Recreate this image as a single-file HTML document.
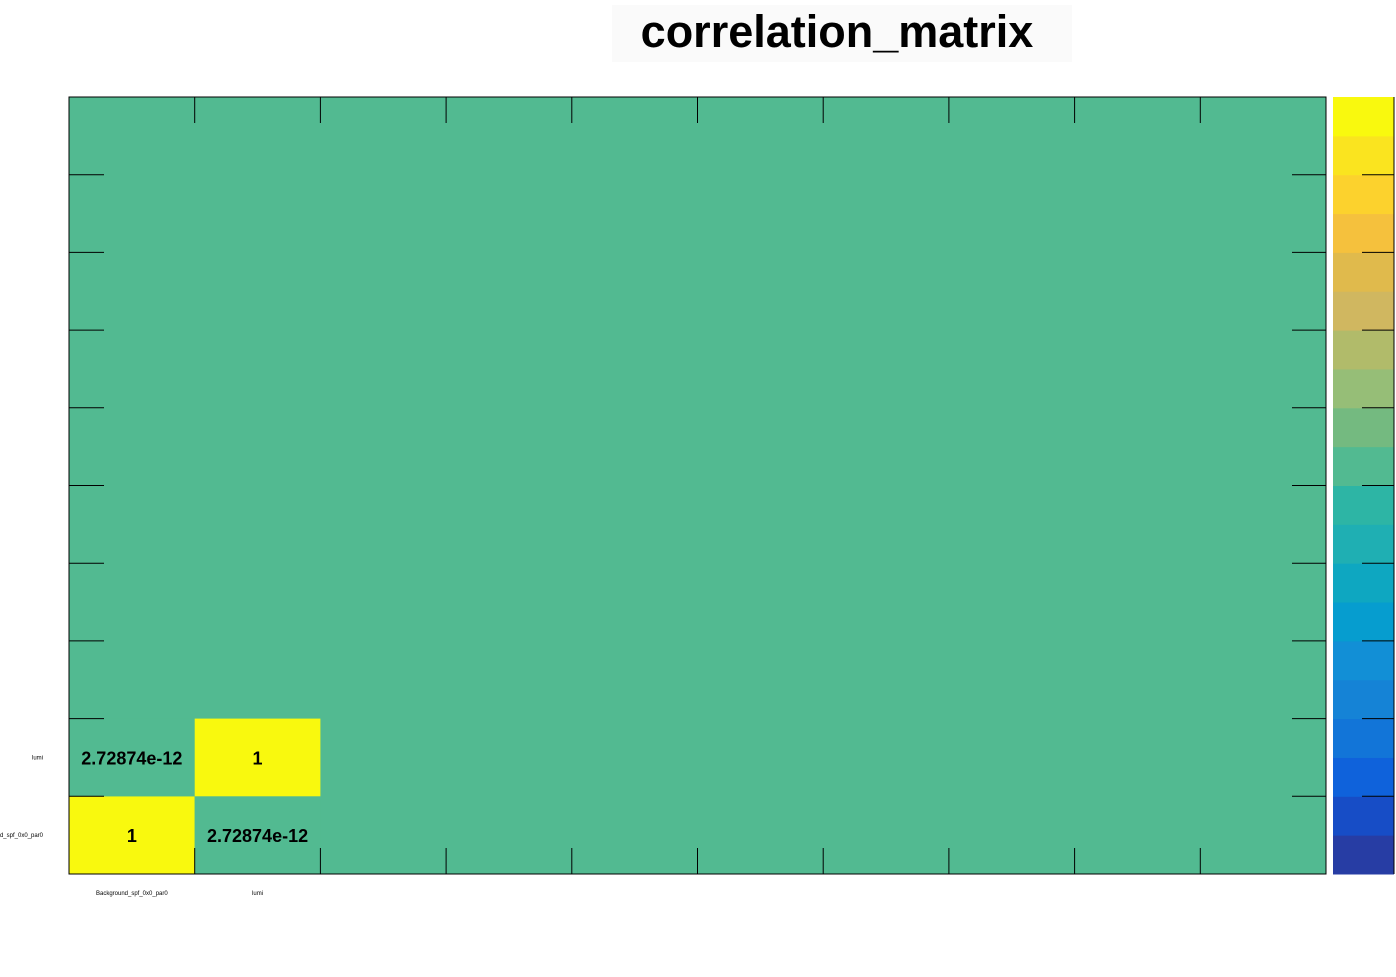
<!DOCTYPE html>
<html><head><meta charset="utf-8"><style>
body{margin:0;background:#fff;width:1396px;height:972px;overflow:hidden;font-family:"Liberation Sans",sans-serif}
</style></head><body>
<svg width="1396" height="972" xmlns="http://www.w3.org/2000/svg" font-family="Liberation Sans, sans-serif">
<rect x="612" y="5" width="460" height="57" fill="#fafafa"/>
<text x="837" y="47" text-anchor="middle" font-size="45" font-weight="bold">correlation_matrix</text>
<g id="plot"></g>
</svg>
<script>
const xLabels=["Background_spf_0x0_par0","lumi"];
const yLabels=["Background_spf_0x0_par0","lumi"];
const values=[[1,2.72874e-12],[2.72874e-12,1]];
const valueText=[["1","2.72874e-12"],["2.72874e-12","1"]];
const nBins=10;
const palette=["#273DA4","#174DC6","#0F62DB","#1275D8","#1583D6","#128FD6","#069DCF","#0EA7C1","#1FAFB3","#2DB5A5","#52BA91","#74BA80","#96BE77","#B1BB6A","#D0B760","#E0BA4C","#F5C13D","#FCD22D","#FAE41F","#F9F90E"];
const ns="http://www.w3.org/2000/svg";
const g=document.getElementById('plot');
const X0=69,X1=1326,Y0=97,Y1=874;
const cw=(X1-X0)/nBins,ch=(Y1-Y0)/nBins;
const xs=i=>X0+i*cw, ys=j=>Y1-(j+1)*ch;
function col(v){let k=Math.floor((v+1)/2*20);if(k>19)k=19;if(k<0)k=0;return palette[k];}
function mk(t,a){const e=document.createElementNS(ns,t);for(const k in a)e.setAttribute(k,a[k]);g.appendChild(e);return e;}
let bg=mk('rect',{x:X0,y:Y0,width:X1-X0,height:Y1-Y0,fill:col(0)});


values.forEach((row,j)=>row.forEach((v,i)=>{
 let r=mk('rect',{x:xs(i),y:ys(j),width:cw,height:ch,fill:col(v)});
 
 
 let t=mk('text',{x:xs(i)+cw/2,y:ys(j)+ch/2+7,'text-anchor':'middle','font-size':18,'font-weight':'bold'});
 t.textContent=valueText[j][i];
 
 
}));
xLabels.forEach((l,i)=>{let t=mk('text',{x:xs(i)+cw/2,y:895,'text-anchor':'middle','font-size':6});t.textContent=l;
 
 });
yLabels.forEach((l,j)=>{let t=mk('text',{x:43,y:ys(j)+ch/2+2,'text-anchor':'end','font-size':6});t.textContent=l;
 
 });
for(let i=1;i<nBins;i++){
 mk('line',{x1:xs(i),x2:xs(i),y1:Y0,y2:Y0+26,stroke:'#000'});
 mk('line',{x1:xs(i),x2:xs(i),y1:Y1-26,y2:Y1,stroke:'#000'});
 let y=Y1-i*ch;
 mk('line',{x1:X0,x2:X0+35,y1:y,y2:y,stroke:'#000'});
 mk('line',{x1:X1-34,x2:X1,y1:y,y2:y,stroke:'#000'});
}
let fr=mk('rect',{x:X0,y:Y0,width:X1-X0,height:Y1-Y0,fill:'none',stroke:'#000','stroke-width':1});


const PX0=1333,PX1=1394,bh=(Y1-Y0)/20;
palette.forEach((c,k)=>{let r=mk('rect',{x:PX0,y:Y1-(k+1)*bh,width:PX1-PX0,height:bh+0.5,fill:c});
 
 });
for(let k=2;k<20;k+=2){let y=Y1-k*bh;mk('line',{x1:1362,x2:PX1,y1:y,y2:y,stroke:'#000'});}
mk('line',{x1:PX1,x2:PX1,y1:Y0,y2:Y1,stroke:'#000'});
</script>
</body></html>
